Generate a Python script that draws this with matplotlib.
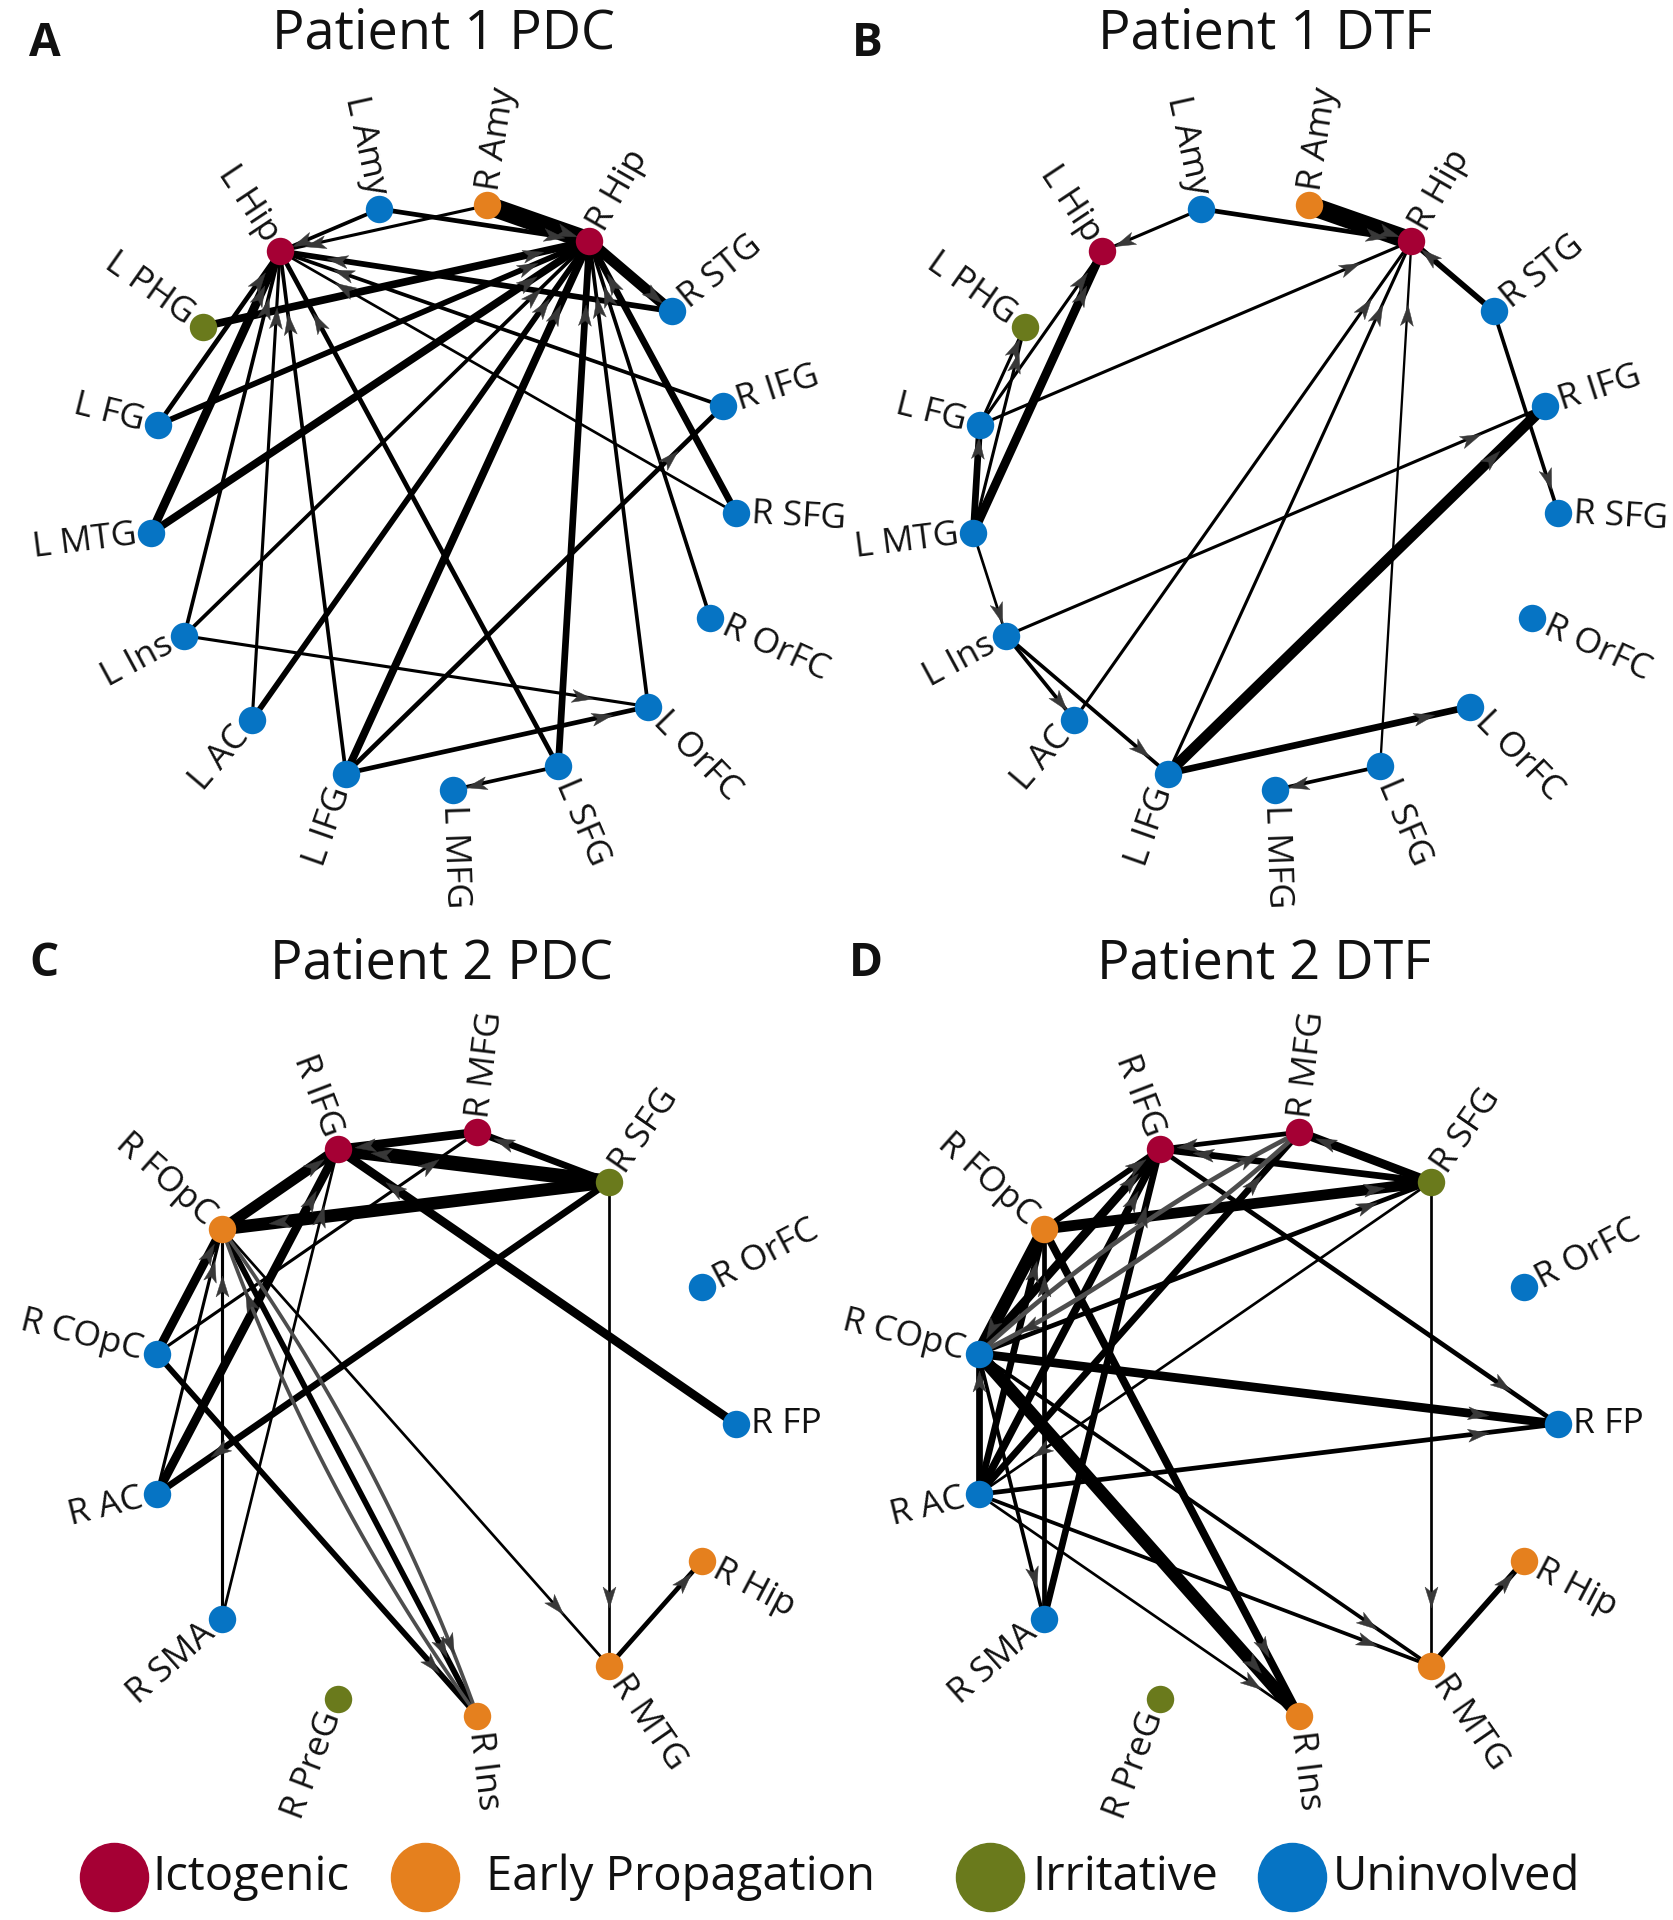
import numpy as np
import matplotlib
matplotlib.use("Agg")
import matplotlib.pyplot as plt
from matplotlib.markers import MarkerStyle
from matplotlib.path import Path
from matplotlib.transforms import Affine2D

plt.rcParams['font.family'] = ['Open Sans', 'DejaVu Sans']

# ---------------- data ----------------
categories = ["Ictogenic", "Early Propagation", "Irritative", "Uninvolved"]
cat_colors = ["#A50034", "#E5801E", "#6A7A1C", "#0674C4"]

# Patient 1 (circular order, counter-clockwise)
p1_nodes = ["R SFG", "R IFG", "R STG", "R Hip", "R Amy", "L Amy", "L Hip", "L PHG",
            "L FG", "L MTG", "L Ins", "L AC", "L IFG", "L MFG", "L SFG", "L OrFC", "R OrFC"]
p1_class = {"L Hip": "Ictogenic", "R Hip": "Ictogenic", "R Amy": "Early Propagation",
            "L PHG": "Irritative"}

# (source, target, strength)
p1_pdc_edges = [
    ("R Amy", "R Hip", 9), ("L Amy", "R Hip", 2), ("L Amy", "L Hip", 1.5),
    ("R Amy", "L Hip", 1.2), ("R Hip", "R STG", 5), ("R STG", "L Hip", 2.5),
    ("R IFG", "L Hip", 1.5), ("R SFG", "L Hip", 1.0), ("L PHG", "R Hip", 3.5),
    ("L FG", "R Hip", 2.5), ("L FG", "L Hip", 2), ("L MTG", "L Hip", 4),
    ("L MTG", "R Hip", 3.5), ("L Ins", "L Hip", 1.5), ("L Ins", "R Hip", 1.5),
    ("L Ins", "L OrFC", 1.2), ("L AC", "L Hip", 1.2), ("L AC", "R Hip", 2.5),
    ("L IFG", "L Hip", 1.5), ("L IFG", "R Hip", 3.5), ("L IFG", "R IFG", 2),
    ("L IFG", "L OrFC", 2), ("L SFG", "L Hip", 2), ("L SFG", "R Hip", 3),
    ("L SFG", "L MFG", 1.5), ("L OrFC", "R Hip", 1.5), ("R OrFC", "R Hip", 1.5),
    ("R SFG", "R Hip", 3),
]
p1_pdc_curved = []

p1_dtf_edges = [
    ("R Amy", "R Hip", 9), ("L Amy", "R Hip", 2), ("L Amy", "L Hip", 1.2),
    ("R STG", "R Hip", 2.5), ("R STG", "R SFG", 1.5), ("L IFG", "R IFG", 5),
    ("L Ins", "R IFG", 1.2), ("L FG", "R Hip", 1.2), ("L AC", "R Hip", 1.2),
    ("L IFG", "R Hip", 1.2), ("L SFG", "R Hip", 0.8), ("L SFG", "L MFG", 1.5),
    ("L IFG", "L OrFC", 3), ("L Ins", "L AC", 1.5), ("L Ins", "L IFG", 1.5),
    ("L MTG", "L Ins", 1), ("L MTG", "L Hip", 4), ("L MTG", "L FG", 3),
    ("L FG", "L PHG", 1.2), ("L MTG", "L PHG", 1.2), ("L FG", "L Hip", 1.2),
]
p1_dtf_curved = []

# Patient 2
p2_nodes = ["R FP", "R OrFC", "R SFG", "R MFG", "R IFG", "R FOpC", "R COpC", "R AC",
            "R SMA", "R PreG", "R Ins", "R MTG", "R Hip"]
p2_class = {"R IFG": "Ictogenic", "R MFG": "Ictogenic", "R FOpC": "Early Propagation",
            "R Hip": "Early Propagation", "R MTG": "Early Propagation",
            "R Ins": "Early Propagation", "R SFG": "Irritative", "R PreG": "Irritative"}

p2_pdc_edges = [
    ("R MFG", "R IFG", 4), ("R SFG", "R IFG", 7), ("R SFG", "R MFG", 3),
    ("R SFG", "R FOpC", 6), ("R FOpC", "R IFG", 5), ("R COpC", "R FOpC", 4),
    ("R COpC", "R MFG", 1.2), ("R AC", "R IFG", 4), ("R AC", "R FOpC", 1.2),
    ("R SFG", "R AC", 3), ("R SMA", "R FOpC", 1.2), ("R SMA", "R IFG", 1),
    ("R COpC", "R Ins", 2.5), ("R FOpC", "R Ins", 2.5), ("R FOpC", "R MTG", 1),
    ("R SFG", "R MTG", 1), ("R MTG", "R Hip", 2), ("R FP", "R IFG", 4),
]
p2_pdc_curved = [("R FOpC", "R Ins", 1.5), ("R Ins", "R FOpC", 1.5)]

p2_dtf_edges = [
    ("R MFG", "R IFG", 2), ("R SFG", "R MFG", 4), ("R SFG", "R IFG", 3),
    ("R FOpC", "R SFG", 5), ("R IFG", "R FP", 2), ("R SFG", "R MTG", 1),
    ("R MTG", "R Hip", 2.5), ("R COpC", "R FP", 4), ("R AC", "R FP", 2),
    ("R COpC", "R SFG", 2), ("R SFG", "R AC", 1), ("R FOpC", "R COpC", 6),
    ("R COpC", "R IFG", 4), ("R AC", "R IFG", 3.5), ("R AC", "R MFG", 3),
    ("R FOpC", "R Ins", 3.5), ("R COpC", "R Ins", 6), ("R COpC", "R MTG", 1.5),
    ("R AC", "R MTG", 1.5), ("R AC", "R Ins", 1), ("R COpC", "R SMA", 1.5),
    ("R SMA", "R IFG", 3), ("R SMA", "R FOpC", 2), ("R AC", "R COpC", 3),
    ("R AC", "R FOpC", 3), ("R FOpC", "R IFG", 2.5),
]
p2_dtf_curved = [("R COpC", "R MFG", 2), ("R MFG", "R COpC", 2)]

# ---------------- layout ----------------
FIG_W, FIG_H = 1673, 1920
fig = plt.figure(figsize=(FIG_W / 100, FIG_H / 100), dpi=100)

R_PX = 294.0   # circle radius in pixels
H = 1.45       # half extent of each panel axes, in radius units
ARROW_T = 0.88
ARROW_MS = 15
ARROW_COLOR = "#383838"


def lw_of(w):
    return 0.5 + w * 1.45


arrow_path = Path([(1, 0), (-1, 0.62), (-0.5, 0), (-1, -0.62), (1, 0)],
                  [Path.MOVETO, Path.LINETO, Path.LINETO, Path.LINETO, Path.CLOSEPOLY])


def draw_arrow(ax, tip, direction):
    d = direction / np.linalg.norm(direction)
    ang = np.degrees(np.arctan2(d[1], d[0]))
    back = (ARROW_MS / 72 * 100) / 2 / R_PX
    c = tip - back * d
    m = MarkerStyle(arrow_path, transform=Affine2D().rotate_deg(ang))
    ax.plot([c[0]], [c[1]], marker=m, ms=ARROW_MS, color=ARROW_COLOR,
            mec=ARROW_COLOR, mew=0.3, ls="none", zorder=3)


def draw_panel(cx_px, cy_px, nodes, classes, start_deg, edges, curved, title, letter):
    ax = fig.add_axes([(cx_px - H * R_PX) / FIG_W, 1 - (cy_px + H * R_PX) / FIG_H,
                       2 * H * R_PX / FIG_W, 2 * H * R_PX / FIG_H])
    ax.set_xlim(-H, H)
    ax.set_ylim(-H, H)
    ax.axis("off")
    n = len(nodes)
    angs = np.deg2rad(start_deg + np.arange(n) * 360.0 / n)
    pos = {nm: np.array([np.cos(a), np.sin(a)]) for nm, a in zip(nodes, angs)}

    for s, t, w in edges:
        p0, p1 = pos[s], pos[t]
        ax.plot([p0[0], p1[0]], [p0[1], p1[1]], color="black", lw=lw_of(w),
                solid_capstyle="butt", zorder=1)
        draw_arrow(ax, p0 + ARROW_T * (p1 - p0), p1 - p0)

    for s, t, w in curved:
        p0, p1 = pos[s], pos[t]
        v = p1 - p0
        perp = np.array([-v[1], v[0]])
        ctrl = (p0 + p1) / 2 + 0.07 * perp
        tt = np.linspace(0, 1, 60)[:, None]
        pts = (1 - tt) ** 2 * p0 + 2 * (1 - tt) * tt * ctrl + tt ** 2 * p1
        ax.plot(pts[:, 0], pts[:, 1], color="#4d4d4d", lw=lw_of(w), zorder=1)
        ta = ARROW_T
        tip = (1 - ta) ** 2 * p0 + 2 * (1 - ta) * ta * ctrl + ta ** 2 * p1
        tang = 2 * (1 - ta) * (ctrl - p0) + 2 * ta * (p1 - ctrl)
        draw_arrow(ax, tip, tang)

    for nm, a in zip(nodes, angs):
        cat = classes.get(nm, "Uninvolved")
        col = cat_colors[categories.index(cat)]
        ax.scatter([pos[nm][0]], [pos[nm][1]], s=390, color=col, zorder=5,
                   linewidths=0)
        deg = np.degrees(a) % 360
        lp = 1.05 * pos[nm]
        if np.cos(a) >= -1e-6:
            rot, ha = deg, "left"
        else:
            rot, ha = deg + 180, "right"
        ax.text(lp[0], lp[1], nm, rotation=rot, rotation_mode="anchor",
                ha=ha, va="center", fontsize=25.5, color="#111111", zorder=6)

    top = cy_px < 900
    fig.text(cx_px / FIG_W, 1 - (34 if top else 964) / FIG_H,
             title, ha="center", va="center", fontsize=39, color="#111111")
    fig.text((cx_px - 398) / FIG_W, 1 - (43 if top else 964) / FIG_H,
             letter, ha="center", va="center", fontsize=33, fontweight="bold",
             color="#111111")


draw_panel(443, 496, p1_nodes, p1_class, -3.4, p1_pdc_edges, p1_pdc_curved,
           "Patient 1 PDC", "A")
draw_panel(1265, 496, p1_nodes, p1_class, -3.4, p1_dtf_edges, p1_dtf_curved,
           "Patient 1 DTF", "B")
draw_panel(442, 1424, p2_nodes, p2_class, 0.0, p2_pdc_edges, p2_pdc_curved,
           "Patient 2 PDC", "C")
draw_panel(1264, 1424, p2_nodes, p2_class, 0.0, p2_dtf_edges, p2_dtf_curved,
           "Patient 2 DTF", "D")

# ---------------- legend ----------------
leg_ax = fig.add_axes([0, 0, 1, 1], zorder=-1)
leg_ax.set_xlim(0, FIG_W)
leg_ax.set_ylim(FIG_H, 0)
leg_ax.axis("off")
leg_marker_x = [114, 425, 990, 1292]
leg_text_x = [152, 486, 1032, 1333]
for cat, col, mx, tx in zip(categories, cat_colors, leg_marker_x, leg_text_x):
    leg_ax.plot([mx], [1877], marker="o", ms=49, color=col, ls="none")
    leg_ax.text(tx, 1877, cat, ha="left", va="center", fontsize=34, color="#111111")

fig.savefig("out.png", dpi=100, facecolor="white")
